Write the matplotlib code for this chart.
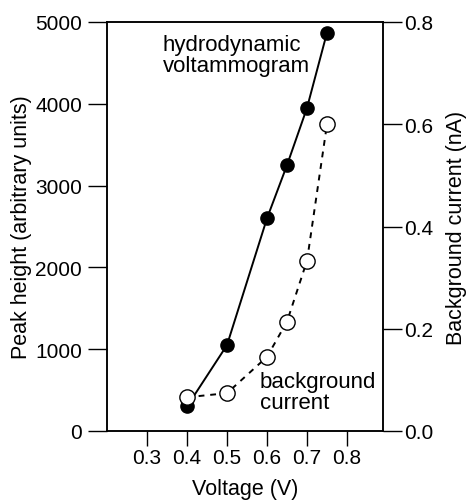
import matplotlib
matplotlib.use("Agg")
import matplotlib.pyplot as plt

plt.rcParams['font.family'] = ['Liberation Sans', 'DejaVu Sans']

# hydrodynamic voltammogram (left axis)
voltage = [0.40, 0.50, 0.60, 0.65, 0.70, 0.75]
peak_height = [300, 1050, 2600, 3250, 3950, 4870]

# background current (right axis)
bg_voltage = [0.40, 0.50, 0.60, 0.65, 0.70, 0.75]
bg_current = [0.066, 0.074, 0.145, 0.214, 0.333, 0.600]

x_ticks = [0.3, 0.4, 0.5, 0.6, 0.7, 0.8]
y_ticks = [0, 1000, 2000, 3000, 4000, 5000]
y2_ticks = [0.0, 0.2, 0.4, 0.6, 0.8]

fig = plt.figure(figsize=(4.71, 5.02), dpi=100)
ax = fig.add_axes([107 / 471, 70 / 502, 276 / 471, 409 / 502])
ax2 = ax.twinx()

ax.plot(voltage, peak_height, color='black', lw=1.4, marker='o',
        markersize=9.5, markerfacecolor='black', zorder=3)
ax2.plot(bg_voltage, bg_current, color='black', lw=1.4, ls=(0, (3, 3)),
         marker='o', markersize=11, markerfacecolor='white',
         markeredgewidth=1.0, zorder=4)
# keep the open circles above the filled ones
ax.set_zorder(1)
ax2.set_zorder(2)
ax2.patch.set_visible(False)

ax.set_xlim(0.2, 0.89)
ax.set_ylim(0, 5000)
ax2.set_ylim(0, 0.8)

ax.set_xticks(x_ticks)
ax.set_xticklabels([f"{v:.1f}" for v in x_ticks])
ax.set_yticks(y_ticks)
ax2.set_yticks(y2_ticks)
ax2.set_yticklabels([f"{v:.1f}" for v in y2_ticks])

ax.tick_params(axis='y', direction='out', length=14, width=1.0,
               labelsize=15, pad=4)
ax.tick_params(axis='x', direction='out', length=11, width=1.0,
               labelsize=15, pad=1.5)
ax2.tick_params(axis='y', direction='out', length=14, width=1.0,
                labelsize=15, pad=1)

for a in (ax, ax2):
    for s in a.spines.values():
        s.set_linewidth(1.1)

ax.set_xlabel("Voltage (V)", fontsize=15.5, labelpad=8)
ax.set_ylabel("Peak height (arbitrary units)", fontsize=15.5, labelpad=2)
ax2.set_ylabel("Background current (nA)", fontsize=15.5, labelpad=9)

ax.text(0.34, 4850, "hydrodynamic\nvoltammogram", fontsize=16,
        ha='left', va='top', linespacing=1.0)
ax2.text(0.5825, 0.117, "background\ncurrent", fontsize=16,
         ha='left', va='top', linespacing=1.0)

fig.savefig("out.png", dpi=100)
